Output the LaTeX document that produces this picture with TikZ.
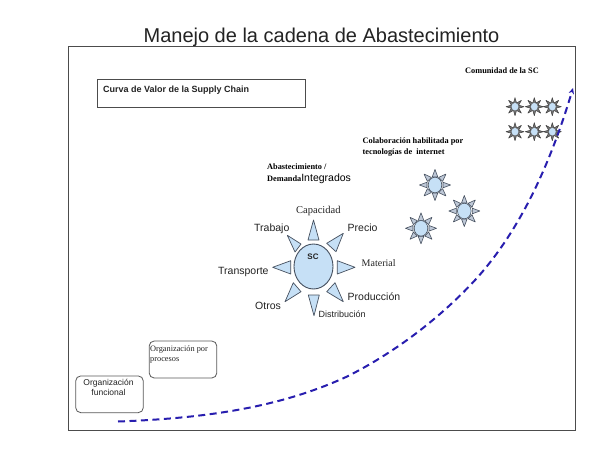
\documentclass[tikz,border=0pt]{standalone}
\usepackage{fontspec}
\setmainfont{Liberation Serif}
\setsansfont{Liberation Sans}
\usetikzlibrary{arrows.meta}
\definecolor{sunblue}{RGB}{198,224,246}
\definecolor{sunline}{RGB}{70,80,95}
\definecolor{curveblue}{RGB}{40,30,175}
\definecolor{ink}{RGB}{35,35,35}
\definecolor{raygrey}{RGB}{190,200,215}
\tikzset{
  x=1pt,y=-1pt,
  framebox/.style={draw=black!70,line width=.9pt},
  roundbox/.style={draw=black!65,line width=.8pt,rounded corners=5pt},
  suntxt/.style={anchor=base west,inner sep=0pt,text=ink,font=\sffamily\fontsize{10.5}{12}\selectfont},
  sertxt/.style={anchor=base west,inner sep=0pt,text=ink,font=\rmfamily\fontsize{10.5}{12}\selectfont},
  boldtxt/.style={anchor=base west,inner sep=0pt,text=black,font=\rmfamily\bfseries\fontsize{8.3}{10}\selectfont},
  ray/.style={draw=sunline,fill=sunblue,line width=.7pt,line join=round},
  disc/.style={draw=sunline,fill=sunblue,line width=.9pt},
  sray/.style={draw=sunline,fill=raygrey,line width=.6pt,line join=round},
  sdisc/.style={draw=sunline,fill=sunblue,line width=.6pt},
  tray/.style={draw=black!75,fill=black!55,line width=.5pt,line join=round},
  tdisc/.style={draw=black!60,fill=sunblue,line width=.4pt},
  curvepath/.style={draw=curveblue,line width=2pt,dash pattern=on 7pt off 4.5pt,-{Stealth[length=6pt,width=5.5pt]}}
}
\newcommand{\smallsun}[2]{%
  \foreach \a in {0,45,...,315}{
    \path[sray,shift={(#1,#2)},rotate=\a] (8,-2.8) -- (15.5,0) -- (8,2.8) -- cycle;
  }
  \path[sdisc] (#1,#2) ellipse [x radius=6.8,y radius=7.8];
}
\newcommand{\tinysun}[2]{%
  \foreach \a in {0,45,...,315}{
    \path[tray,shift={(#1,#2)},rotate=\a] (3.5,-1.6) -- (9,0) -- (3.5,1.6) -- cycle;
  }
  \path[tdisc] (#1,#2) ellipse [x radius=3.8,y radius=4.2];
}
\begin{document}
\begin{tikzpicture}
\useasboundingbox (0,0) rectangle (600,450);
\fill[white] (0,0) rectangle (600,450);
\node[anchor=base,inner sep=0pt,font=\sffamily\fontsize{20}{24}\selectfont,text=ink] (title) at (321.5,42) {Manejo de la cadena de Abastecimiento};
\draw[framebox] (68,46) rectangle (575,430);

\node[framebox,minimum width=208.5pt,minimum height=28pt,inner sep=0pt] (valuebox) at (201.5,93.3) {};
\node[anchor=base west,inner sep=0pt,font=\sffamily\bfseries\fontsize{9}{11}\selectfont,text=ink] (valuetxt) at (103,92) {Curva de Valor de la Supply Chain};

\node[roundbox,minimum width=67.6pt,minimum height=36.7pt,inner sep=0pt] (funcbox) at (109.5,394.3) {};
\node[anchor=base,inner sep=0pt,font=\sffamily\fontsize{8.5}{10}\selectfont,text=ink] (func1) at (108.5,385.7) {Organización};
\node[anchor=base,inner sep=0pt,font=\sffamily\fontsize{8.5}{10}\selectfont,text=ink] (func2) at (108.5,395.7) {funcional};
\node[roundbox,minimum width=67.6pt,minimum height=37pt,inner sep=0pt] (procbox) at (183,359.5) {};
\node[sertxt,font=\rmfamily\fontsize{8.3}{10}\selectfont] (proc1) at (150,351.7) {Organización por};
\node[sertxt,font=\rmfamily\fontsize{8.3}{10}\selectfont] (proc2) at (150,361.7) {procesos};

% collaboration suns
\smallsun{435}{185}
\smallsun{464.3}{211}
\smallsun{421}{228.3}

% community suns
\tinysun{515}{106.7}
\tinysun{534.3}{106.7}
\tinysun{552.3}{106.7}
\tinysun{515}{131.7}
\tinysun{534.3}{131.7}
\tinysun{552.3}{131.7}

% value curve
\coordinate (c0) at (118,421.5);
\coordinate (c1) at (346.7,376.7);
\coordinate (c2) at (476.7,278.3);
\coordinate (c3) at (573,88);
\path[curvepath] (c0) .. controls (215,418) and (285,405) .. (c1)
  .. controls (400,350) and (445,313) .. (c2)
  .. controls (520,230) and (550,165) .. (c3);

% main sun
\draw[ray] (313.5,220) -- (308,240) -- (319,240) -- cycle;
\draw[ray] (343.3,233.3) -- (326.7,243.3) -- (336,251.7) -- cycle;
\draw[ray] (355,267.3) -- (337.3,260.7) -- (337.3,274) -- cycle;
\draw[ray] (343.3,301.7) -- (326.7,291.7) -- (335,282.7) -- cycle;
\draw[ray] (314,315.7) -- (308.3,295) -- (319.3,295) -- cycle;
\draw[ray] (285,301.7) -- (293.3,282.7) -- (301,291.7) -- cycle;
\draw[ray] (272.7,267.3) -- (290.7,260.7) -- (290.7,274) -- cycle;
\draw[ray] (287.3,235.3) -- (301,244) -- (295,252) -- cycle;
\draw[disc] (313.5,266.5) ellipse [x radius=19.5,y radius=22.5];
\node[anchor=base,inner sep=0pt,font=\sffamily\bfseries\fontsize{8}{10}\selectfont,text=ink] (sc) at (313,259.5) {SC};

\node[sertxt] (capacidad) at (296,213) {Capacidad};
\node[suntxt] (trabajo) at (254,231.5) {Trabajo};
\node[suntxt] (precio) at (347.5,231.5) {Precio};
\node[sertxt,font=\rmfamily\fontsize{10}{12}\selectfont] (material) at (361.5,266) {Material};
\node[suntxt] (transporte) at (218,274.5) {Transporte};
\node[suntxt] (produccion) at (347.5,300) {Producción};
\node[suntxt] (otros) at (255,309) {Otros};
\node[suntxt,font=\sffamily\fontsize{9}{11}\selectfont] (distribucion) at (318.5,317) {Distribución};

\node[boldtxt] (abast) at (267,169.5) {Abastecimiento /};
\node[boldtxt] (demanda) at (267,181) {Demanda{\sffamily\mdseries\fontsize{10.5}{12}\selectfont Integrados}};

\node[boldtxt] (colab1) at (362.5,143) {Colaboración habilitada por};
\node[boldtxt] (colab2) at (362.5,154) {tecnologías de\ \ internet};

\node[boldtxt] (comunidad) at (465,73) {Comunidad de la SC};
\end{tikzpicture}
\end{document}
